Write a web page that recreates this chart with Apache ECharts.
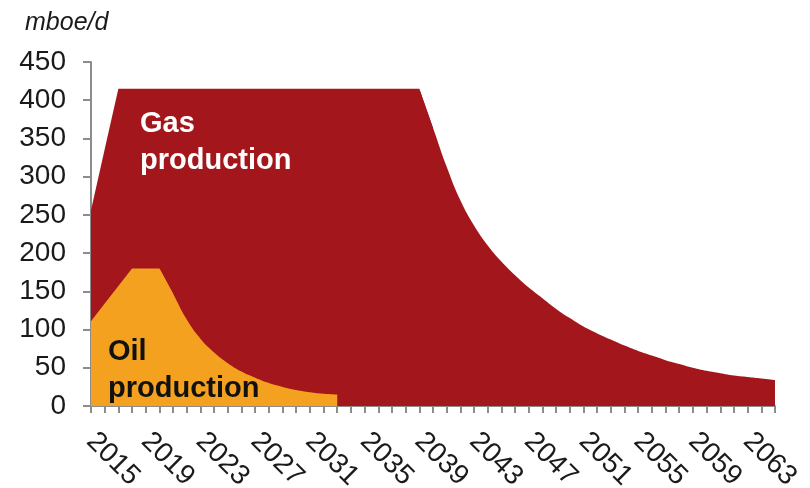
<!DOCTYPE html>
<html>
<head>
<meta charset="utf-8">
<script src="https://cdn.jsdelivr.net/npm/echarts@6/dist/echarts.min.js"></script>
<style>
  html, body { margin: 0; padding: 0; background: #fff; }
  #chart { width: 810px; height: 488px; }
</style>
</head>
<body>
<div id="chart"></div>
<script>
// Production outlook, thousand barrels of oil equivalent per day
const years = [
  '2015','2016','2017','2018','2019','2020','2021','2022','2023','2024',
  '2025','2026','2027','2028','2029','2030','2031','2032','2033','2034',
  '2035','2036','2037','2038','2039','2040','2041','2042','2043','2044',
  '2045','2046','2047','2048','2049','2050','2051','2052','2053','2054',
  '2055','2056','2057','2058','2059','2060','2061','2062','2063','2064','2065'
];

const gasProduction = [
  256, 336,
  415, 415, 415, 415, 415, 415, 415, 415, 415, 415, 415, 415,
  415, 415, 415, 415, 415, 415, 415, 415, 415, 415, 415,
  364, 313, 269, 236, 210, 189, 171, 155, 141, 127, 115, 104, 95,
  87, 79, 72, 66, 60, 55, 50, 46, 43, 40, 38, 36, 34
];

const oilProduction = [
  111, 134, 157, 180, 180, 180, 147, 113, 88, 70,
  56, 45, 37, 30, 25, 21, 18, 16, 15
];

// Last plateau year; the decline that follows is drawn as a smooth curve
const gasPlateauEnd = '2039';
const oilPlateauEnd = '2020';

const yTicks = { min: 0, max: 450, interval: 50 };
const unitLabel = 'mboe/d';

const GAS = '#A3171C';
const OIL = '#F4A11F';
const AXIS = '#8C8C8C';
const FONT = 'Liberation Sans, Arial, sans-serif';

// Split a series into build-up/plateau (straight segments) and decline (smooth).
// The two parts overlap by one year so their fills join without a seam.
function phases(values, endYear) {
  const k = years.indexOf(endYear);
  const head = values.map((v, i) => (i <= k + 1 ? v : '-'));
  const tail = values.map((v, i) => (i >= k ? v : '-'));
  return [head, tail];
}

const [gasHead, gasTail] = phases(gasProduction, gasPlateauEnd);
const [oilHead, oilTail] = phases(oilProduction, oilPlateauEnd);

function area(name, data, color, smooth, z) {
  return {
    name: name,
    type: 'line',
    data: data,
    smooth: smooth,
    symbol: 'none',
    connectNulls: false,
    lineStyle: { width: 0 },
    areaStyle: { color: color, opacity: 1 },
    z: z
  };
}

const chart = echarts.init(document.getElementById('chart'), null, { renderer: 'canvas' });

chart.setOption({
  animation: false,
  backgroundColor: '#fff',
  grid: {
    left: 91, right: 35, top: 62, bottom: 82,
    containLabel: false,
    outerBoundsMode: 'none'
  },
  title: {
    text: unitLabel,
    left: 20, top: 6,
    textStyle: { fontFamily: FONT, fontSize: 25, fontStyle: 'italic', fontWeight: 'normal', color: '#1a1a1a' }
  },
  xAxis: {
    type: 'category',
    data: years,
    boundaryGap: false,
    axisLine: { lineStyle: { color: AXIS, width: 2 } },
    axisTick: { show: true, interval: 0, length: 7, lineStyle: { color: AXIS, width: 2 } },
    axisLabel: {
      interval: 3,
      rotate: -45,
      margin: 31,
      fontFamily: FONT,
      fontSize: 28,
      color: '#1a1a1a'
    },
    splitLine: { show: false }
  },
  yAxis: {
    type: 'value',
    min: yTicks.min, max: yTicks.max, interval: yTicks.interval,
    axisLine: { show: true, lineStyle: { color: AXIS, width: 2 } },
    axisTick: { show: true, length: 8, lineStyle: { color: AXIS, width: 2 } },
    axisLabel: { margin: 25, fontFamily: FONT, fontSize: 28, color: '#1a1a1a' },
    splitLine: { show: false }
  },
  series: [
    area('Gas production', gasHead, GAS, false, 2),
    area('Gas production', gasTail, GAS, 0.45, 2),
    area('Oil production', oilHead, OIL, false, 3),
    area('Oil production', oilTail, OIL, 0.45, 3)
  ],
  graphic: [
    {
      type: 'text', left: 140, top: 105, z: 10,
      style: {
        text: 'Gas\nproduction',
        fill: '#fff',
        font: 'bold 29px ' + FONT,
        lineHeight: 37
      }
    },
    {
      type: 'text', left: 108, top: 333, z: 10,
      style: {
        text: 'Oil\nproduction',
        fill: '#111',
        font: 'bold 29px ' + FONT,
        lineHeight: 37
      }
    }
  ]
});
</script>
</body>
</html>
